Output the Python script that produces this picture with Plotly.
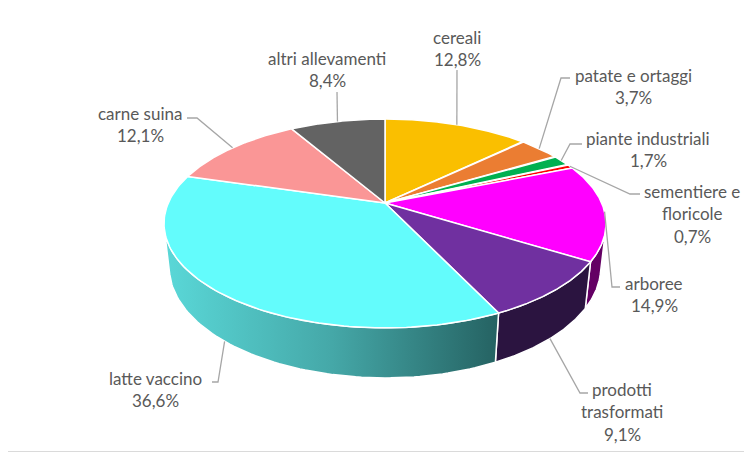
import numpy as np
import plotly.graph_objects as go

# data (share of value, %)
labels = ["cereali", "patate e ortaggi", "piante industriali", "sementiere e floricole",
          "arboree", "prodotti trasformati", "latte vaccino", "carne suina", "altri allevamenti"]
values = [12.8, 3.7, 1.7, 0.7, 14.9, 9.1, 36.6, 12.1, 8.4]
label_lines = [["cereali"], ["patate e ortaggi"], ["piante industriali"], ["sementiere e", "floricole"],
               ["arboree"], ["prodotti", "trasformati"], ["latte vaccino"], ["carne suina"], ["altri allevamenti"]]
top_colors = ["#FABF00", "#EB7D32", "#00B050", "#FF0000", "#FF00FF", "#7030A0", "#63FCFC", "#FA9696", "#636363"]
side_colors = ["#B38900", "#A85A24", "#007A38", "#B30000", "#640064", "#2B1440", "#5AD6D6", "#B36B6B", "#444444"]

# label placement (pixel space of the 752x452 chart): text centre, first line y, leader elbow points
label_pos = [(457, 37), (633, 75), (648, 138), (692, 191), (654, 283), (622, 389), (155, 378), (140, 113), (327, 58)]
elbows = [[(457, 70)], [(561, 78), (570, 78)], [(570, 144), (582, 144)], [(630, 194), (640, 194)],
          [(612, 287), (620, 287)], [(580, 393), (588, 393)], [(218, 382), (212, 382)],
          [(197, 118), (187, 118)], [(337, 92)]]

# 3d view of the pie
CX, CY = 385, 203        # pie centre on screen
S = 216.7                # half width
K = 0.196                # perspective strength
TILT = np.radians(27.6)
THICK = 0.231            # thickness / radius
r = K / np.cos(TILT)

# page body has an 8px margin, so the figure is 8px smaller and the ranges start at 8
PAGE_OFF = 8
W, H = 752, 452


def proj(theta, depth):
    X = np.sin(theta)
    Z = np.cos(theta)
    Y = -depth * THICK
    xc = X
    yc = Y * np.cos(TILT) + Z * np.sin(TILT)
    zc = 1 / r + Z * np.cos(TILT) - Y * np.sin(TILT)
    return CX + (S / r) * xc / zc, CY - (S / r) * yc / zc


# visible part of the outer wall (silhouette tangent points)
t_sil = np.arccos(-r / np.cos(TILT))
vis_lo, vis_hi = t_sil, 2 * np.pi - t_sil

cum = np.concatenate([[0], np.cumsum(values)]) / sum(values) * 2 * np.pi

fig = go.Figure()

# outer walls
for i in range(len(values)):
    a0, a1 = max(cum[i], vis_lo), min(cum[i + 1], vis_hi)
    if a1 <= a0:
        continue
    t = np.linspace(a0, a1, 80)
    xt, yt = proj(t, 0)
    xb, yb = proj(t[::-1], 1)
    xs = np.concatenate([xt, xb, xt[:1]])
    ys = np.concatenate([yt, yb, yt[:1]])
    if labels[i] == "latte vaccino":
        fig.add_trace(go.Scatter(x=xs, y=ys, mode="lines", fill="toself",
                                 fillgradient=dict(type="horizontal",
                                                   colorscale=[[0, "#5AD8D8"], [0.5, "#45A8A8"], [1, "#256262"]]),
                                 line=dict(color="white", width=1.5), hoverinfo="skip"))
    else:
        fig.add_trace(go.Scatter(x=xs, y=ys, mode="lines", fill="toself", fillcolor=side_colors[i],
                                 line=dict(color="white", width=1.5), hoverinfo="skip"))

# top faces
for i in range(len(values)):
    t = np.linspace(cum[i], cum[i + 1], 120)
    xt, yt = proj(t, 0)
    xs = np.concatenate([[CX], xt, [CX]])
    ys = np.concatenate([[CY], yt, [CY]])
    fig.add_trace(go.Scatter(x=xs, y=ys, mode="lines", fill="toself", fillcolor=top_colors[i],
                             line=dict(color="white", width=1.5), name=labels[i],
                             text=f"{labels[i]}: {values[i]}%".replace(".", ","), hoverinfo="text"))

# leader lines and labels
for i in range(len(values)):
    mid = (cum[i] + cum[i + 1]) / 2
    depth = 1 if vis_lo < mid < vis_hi else 0
    px, py = proj(mid, depth)
    lx = [px] + [p[0] for p in elbows[i]]
    ly = [py] + [p[1] for p in elbows[i]]
    fig.add_trace(go.Scatter(x=lx, y=ly, mode="lines", line=dict(color="#A6A6A6", width=1.3),
                             hoverinfo="skip"))
    lines = label_lines[i] + [f"{values[i]:.1f}%".replace(".", ",")]
    x0, y0 = label_pos[i]
    for j, txt in enumerate(lines):
        fig.add_annotation(x=x0, y=y0 + j * 22.5, text=txt, showarrow=False,
                           xanchor="center", yanchor="middle",
                           font=dict(family="Lato", size=17, color="#595959"))

fig.update_xaxes(range=[PAGE_OFF, W], visible=False)
fig.update_yaxes(range=[H, PAGE_OFF], visible=False)
fig.update_layout(width=W - PAGE_OFF, height=H - PAGE_OFF, margin=dict(l=0, r=0, t=0, b=0),
                  paper_bgcolor="white", plot_bgcolor="white", showlegend=False,
                  shapes=[dict(type="line", xref="paper", yref="paper", x0=0.999, y0=0, x1=0.999, y1=1,
                               line=dict(color="#D9D9D9", width=1)),
                          dict(type="line", xref="paper", yref="paper", x0=0, y0=0.001, x1=1, y1=0.001,
                               line=dict(color="#D9D9D9", width=1))])
fig.write_html("out.html")
